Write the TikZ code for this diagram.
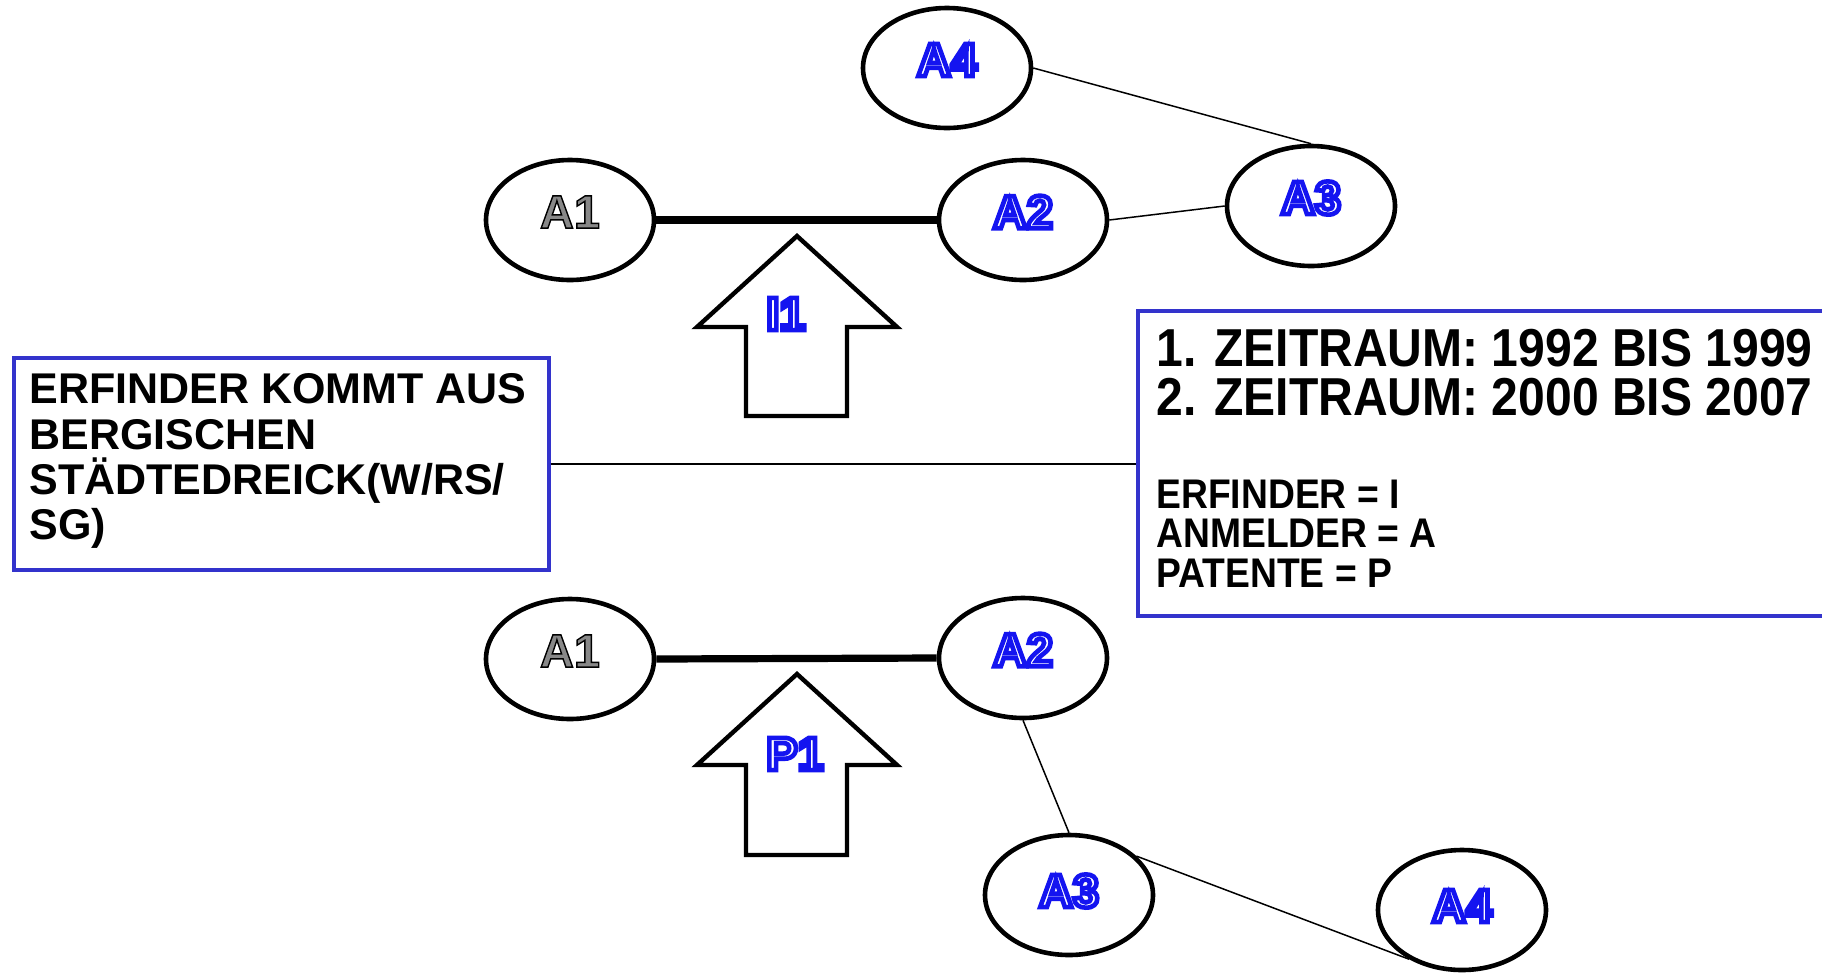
\documentclass[tikz,border=0pt]{standalone}
\usepackage{fontspec}
\setmainfont{Liberation Sans}
\newfontfamily\condfont[FakeStretch=0.9]{Liberation Sans}
\usetikzlibrary{shapes.geometric,calc}
\definecolor{boxblue}{RGB}{51,51,204}
\definecolor{txtblue}{RGB}{20,20,240}
\definecolor{lblgray}{RGB}{136,136,136}
\newcommand\bluelbl[1]{{\color{white}\special{pdf:literal direct 2 Tr 2.3 w 0.08 0.08 0.94 RG}#1\special{pdf:literal direct 0 Tr}}}
\newcommand\graylbl[1]{{\color{lblgray}\special{pdf:literal direct 2 Tr 0.7 w 0 0 0 RG}#1\special{pdf:literal direct 0 Tr}}}
\tikzset{
  ell/.style={draw, ellipse, line width=2.3pt, minimum width=84pt, minimum height=60pt, inner sep=0pt, fill=white},
  lbl/.style={font=\fontsize{23.5pt}{24pt}\selectfont\bfseries, inner sep=0pt},
  heavylink/.style={line width=3.6pt},
  lightlink/.style={line width=0.75pt},
  infobox/.style={draw=boxblue, line width=1.8pt, rectangle, inner sep=0pt, anchor=north west, fill=white},
  bigarrow/.style={draw, line width=2.2pt, line join=miter, fill=white},
  lefttxt/.style={anchor=base west, inner sep=0pt, font=\fontsize{21.5pt}{22pt}\selectfont\bfseries},
  toptxt/.style={anchor=base west, inner sep=0pt, font=\condfont\fontsize{26.7pt}{27pt}\selectfont\bfseries},
  lowtxt/.style={anchor=base west, inner sep=0pt, font=\condfont\fontsize{20.7pt}{21pt}\selectfont\bfseries}
}
\begin{document}
\begin{tikzpicture}[x=0.5pt,y=-0.5pt]
\useasboundingbox (0,0) rectangle (1822,976);
% info boxes
\node[infobox, minimum width=267.5pt, minimum height=106pt] (lbox) at (12,356) {};
\node[infobox, minimum width=360pt, minimum height=152.5pt] (rbox) at (1136,309) {};
\draw[lightlink] (lbox.east) -- (lbox.east -| rbox.west);
\node[lefttxt] (l1) at (29,403) {ERFINDER KOMMT AUS};
\node[lefttxt] (l2) at (29,449) {BERGISCHEN};
\node[lefttxt] (l3) at (29,494) {STÄDTEDREICK(W/RS/};
\node[lefttxt] (l4) at (29,539) {SG)};
\node[toptxt] (r1) at (1156,366) {1. ZEITRAUM: 1992 BIS 1999};
\node[toptxt] (r2) at (1156,415) {2. ZEITRAUM: 2000 BIS 2007};
\node[lowtxt] (r3) at (1156,508) {ERFINDER = I};
\node[lowtxt] (r4) at (1156,547) {ANMELDER = A};
\node[lowtxt] (r5) at (1156,587) {PATENTE = P};
% top group
\node[ell] (A4t) at (947,68) {};
\node[ell] (A1t) at (570,220) {};
\node[ell] (A2t) at (1023,220) {};
\node[ell] (A3t) at (1311,206) {};
\draw[heavylink] (A1t.east) -- (A2t.west);
\draw[lightlink] (A2t.east) -- (A3t.west);
\draw[lightlink] (A4t.east) -- (A3t.north);
\node[lbl] (A4tl) at ($(A4t.center)+(0,-8)$) {\bluelbl{A4}};
\node[lbl] (A1tl) at ($(A1t.center)+(0,-8)$) {\graylbl{A1}};
\node[lbl] (A2tl) at ($(A2t.center)+(0,-8)$) {\bluelbl{A2}};
\node[lbl] (A3tl) at ($(A3t.center)+(0,-8)$) {\bluelbl{A3}};
\draw[bigarrow] (746,416) -- (746,327) -- (697,327) -- (797,236) -- (897,327) -- (847,327) -- (847,416) -- cycle;
\node[lbl] (I1) at (786,314) {\bluelbl{I1}};
% bottom group
\node[ell] (A1b) at (570,659) {};
\node[ell] (A2b) at (1023,658) {};
\node[ell] (A3b) at (1069,895) {};
\node[ell] (A4b) at (1462,910) {};
\draw[heavylink] (A1b.east) -- (A2b.west);
\draw[lightlink] (A2b.south) -- (A3b.north);
\draw[lightlink] (A3b.30) -- (A4b.223);
\node[lbl] (A1bl) at ($(A1b.center)+(0,-8)$) {\graylbl{A1}};
\node[lbl] (A2bl) at ($(A2b.center)+(0,-8)$) {\bluelbl{A2}};
\node[lbl] (A3bl) at ($(A3b.center)+(0,-4)$) {\bluelbl{A3}};
\node[lbl] (A4bl) at ($(A4b.center)+(0,-4)$) {\bluelbl{A4}};
\draw[bigarrow] (746,855) -- (746,765) -- (697,765) -- (797,674) -- (897,765) -- (847,765) -- (847,855) -- cycle;
\node[lbl] (P1) at (795,754) {\bluelbl{P1}};
\end{tikzpicture}
\end{document}
